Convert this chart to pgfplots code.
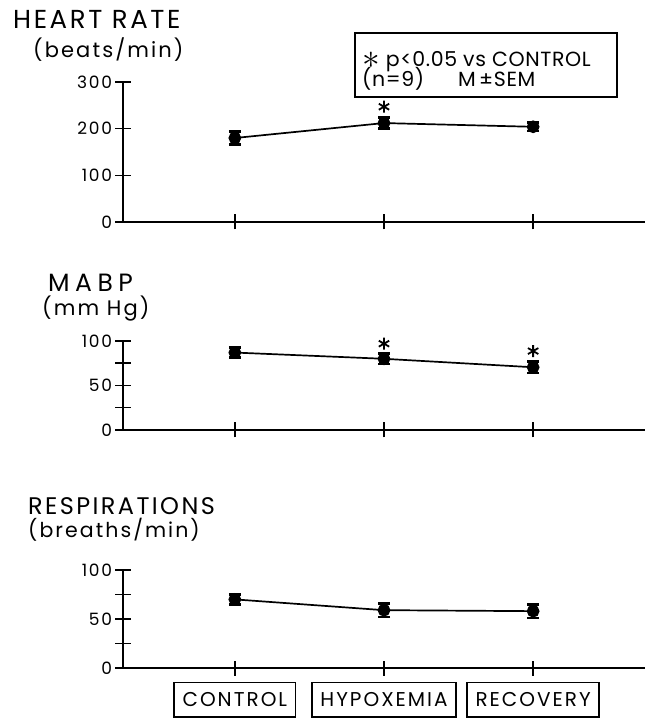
\documentclass[border=0pt]{standalone}
\usepackage{pgfplots}
\pgfplotsset{compat=1.18}
\usepackage{fontspec}
\setmainfont{Poppins}
\newfontfamily\ttlfont[LetterSpace=10]{Poppins}
\newfontfamily\widettlfont[LetterSpace=22]{Poppins}
\newfontfamily\tckfont[LetterSpace=10]{Poppins}
\newfontfamily\lgdfont[LetterSpace=3]{Poppins}
\begin{document}
\begin{tikzpicture}[x=1pt,y=1pt]
\useasboundingbox (0,0) rectangle (656,721);
\pgfplotsset{
  panel/.style={
    at={(123pt,#1pt)}, anchor=south west,
    scale only axis, width=522pt,
    xmin=-0.75, xmax=2.75, ymin=0,
    axis x line=bottom, axis y line=left,
    axis line style={-, line width=1.7pt},
    xtick={0,1,2}, xticklabels={},
    tick align=center, major tick length=15pt, minor tick length=15pt,
    every tick/.style={black, line width=1.5pt},
    yticklabel style={font=\tckfont\fontsize{17}{17}\selectfont, anchor=east},
    /pgf/number format/assume math mode=true,
    clip=false,
  },
  series/.style={black, line width=1.7pt, mark=*, mark size=5.5pt,
    error bars/y dir=both, error bars/y explicit,
    error bars/error bar style={line width=2.2pt},
    error bars/error mark options={rotate=90, mark size=6pt, line width=2.4pt}},
  star/.style={only marks, mark=asterisk, mark size=6pt, mark options={line width=1.8pt}, black},
}
% titles
\node[anchor=base west, inner sep=0, font=\ttlfont\fontsize{26}{26}\selectfont] at (13,692) {HEART RATE};
\node[anchor=base west, inner sep=0, font=\ttlfont\fontsize{21}{21}\selectfont] at (33,663) {(beats/min)};
\node[anchor=base west, inner sep=0, font=\widettlfont\fontsize{25}{25}\selectfont] at (48,429) {MABP};
\node[anchor=base west, inner sep=0, font=\ttlfont\fontsize{21}{21}\selectfont] at (42,405) {(mm Hg)};
\node[anchor=base west, inner sep=0, font=\ttlfont\fontsize{24}{24}\selectfont] at (28,206) {RESPIRATIONS};
\node[anchor=base west, inner sep=0, font=\ttlfont\fontsize{20.5}{20.5}\selectfont] at (28,183) {(breaths/min)};
% legend box
\draw[line width=1.5pt] (355,624) rectangle (617,688);
\node[anchor=base west, inner sep=0, font=\lgdfont\fontsize{20.5}{20.5}\selectfont] at (362,654) {\raisebox{-2pt}{\scalebox{1.7}{$\ast$}} p<0.05 vs CONTROL};
\node[anchor=base west, inner sep=0, font=\lgdfont\fontsize{20.5}{20.5}\selectfont] at (362,634) {(n=9)\hspace{34pt}M\,±SEM};

% Panel 1: heart rate
\begin{axis}[panel=499, height=140pt, ymax=300, ytick={0,100,200,300}]
\addplot[series] coordinates {(0,180) +- (0,14) (1,212) +- (0,12) (2,204) +- (0,9)};
\addplot[star] coordinates {(1,247)};
\end{axis}

% Panel 2: MABP
\begin{axis}[panel=291, height=89pt, ymax=100, ytick={0,50,100}, minor ytick={25,75}]
\addplot[series] coordinates {(0,87) +- (0,5.5) (1,80) +- (0,6) (2,70.5) +- (0,6.5)};
\addplot[star] coordinates {(1,97) (2,88.7)};
\end{axis}

% Panel 3: respirations
\begin{axis}[panel=53, height=98pt, ymax=100, ytick={0,50,100}, minor ytick={25,75},
  xticklabels={CONTROL,HYPOXEMIA,RECOVERY},
  xticklabel style={draw, line width=1.5pt, font=\tckfont\fontsize{20}{20}\selectfont,
    text height=14.5pt, text depth=0pt, inner xsep=8.5pt, inner ysep=10pt, anchor=north, yshift=-6pt}]
\addplot[series] coordinates {(0,70) +- (0,5) (1,59) +- (0,7) (2,58) +- (0,7)};
\end{axis}
\end{tikzpicture}
\end{document}
